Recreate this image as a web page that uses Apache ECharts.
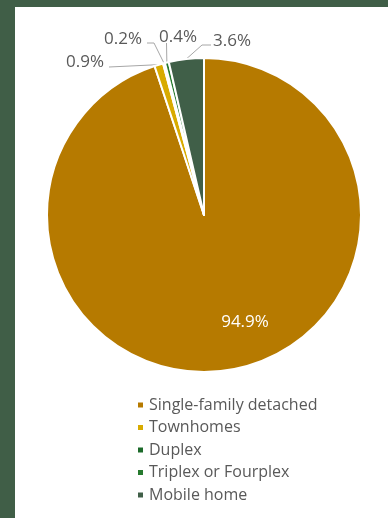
<!DOCTYPE html>
<html>
<head>
<meta charset="utf-8">
<script src="https://cdn.jsdelivr.net/npm/echarts@6/dist/echarts.min.js"></script>
<style>
html,body{margin:0;padding:0;width:388px;height:518px;background:#405e47;overflow:hidden;}
#c{position:absolute;left:15px;top:7px;width:373px;height:511px;background:#ffffff;}
</style>
</head>
<body>
<div id="c"></div>
<script>
const categories = ['Single-family detached', 'Townhomes', 'Duplex', 'Triplex or Fourplex', 'Mobile home'];
const values = [94.9, 0.9, 0.2, 0.4, 3.6];
const colors = ['#b67a00', '#d8ab00', '#1c6a2a', '#267a2e', '#405f48'];

// label placement (layout only): anchor [x, y], align, and leader-line bend/end points
const labelSpots = [
  { at: [230, 315], align: 'center', line: null },
  { at: [51, 55], align: 'left', line: [[94, 60], [94, 60]] },
  { at: [89, 32], align: 'left', line: [[139, 36], [132, 36]] },
  { at: [144, 30], align: 'left', line: [[151.5, 36], [151.5, 36]] },
  { at: [198, 34], align: 'left', line: [[187, 38], [196, 38]] }
];

const chart = echarts.init(document.getElementById('c'));
const data = categories.map((n, i) => ({
  name: n,
  value: values[i],
  itemStyle: { color: colors[i] },
  label: i === 0 ? { position: 'inside', color: '#ffffff' } : undefined,
  labelLine: i === 0 ? { show: false } : undefined
}));
chart.setOption({
  animation: false,
  textStyle: { fontFamily: 'Open Sans' },
  legend: {
    orient: 'vertical',
    left: 116,
    top: 385,
    itemWidth: 7,
    itemHeight: 7,
    itemGap: 6.5,
    icon: 'rect',
    textStyle: { fontSize: 16, color: '#595959', fontFamily: 'Open Sans' },
    data: categories
  },
  series: [{
    type: 'pie',
    center: [189, 208],
    radius: [0, 157],
    startAngle: 90,
    clockwise: true,
    itemStyle: { borderColor: '#ffffff', borderWidth: 2 },
    label: {
      show: true,
      formatter: p => p.value.toFixed(1) + '%',
      fontSize: 17,
      color: '#595959',
      fontFamily: 'Open Sans',
      overflow: 'none',
      width: 60
    },
    labelLine: { show: true, length: 10, length2: 20, lineStyle: { color: '#a6a6a6', width: 1 } },
    labelLayout: function (params) {
      const s = labelSpots[params.dataIndex];
      const out = { x: s.at[0], y: s.at[1], align: s.align, verticalAlign: 'middle' };
      if (s.line && params.labelLinePoints) {
        const start = params.labelLinePoints[0];
        out.labelLinePoints = [start, s.line[0], s.line[1]];
      }
      return out;
    },
    data: data
  }]
});
</script>
</body>
</html>
